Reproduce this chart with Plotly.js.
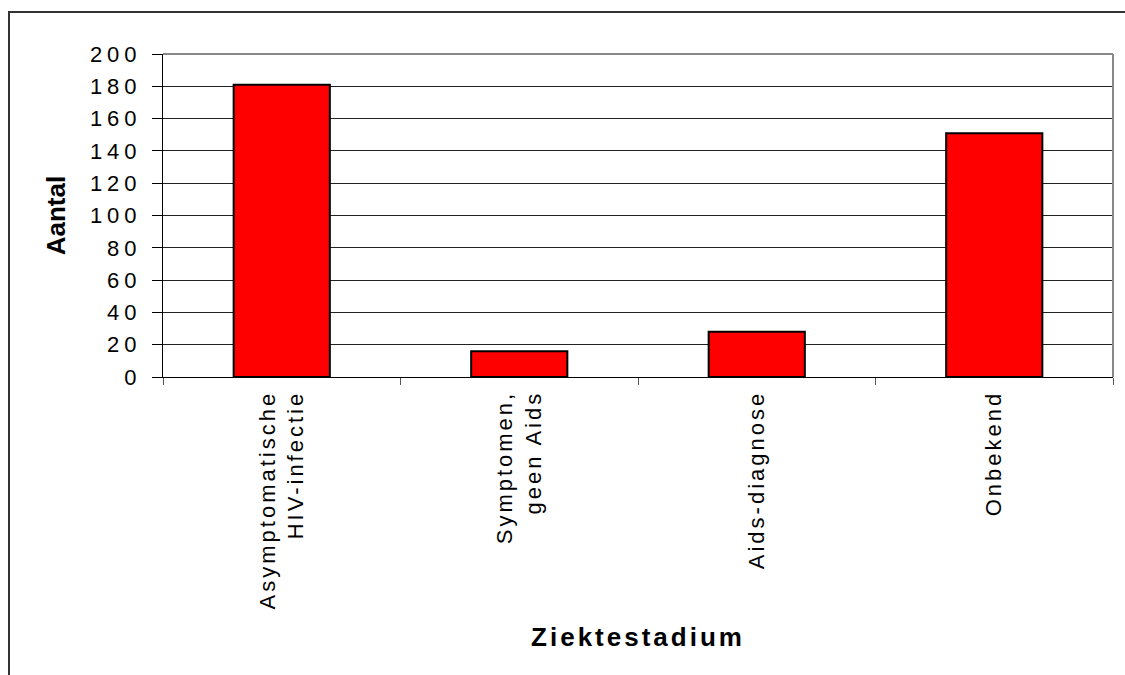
<!DOCTYPE html>
<html>
<head>
<meta charset="utf-8">
<script src="https://cdn.plot.ly/plotly-3.0.1.min.js"></script>
<style>
  html, body { margin: 0; padding: 0; background: #fff; }
  #wrap { position: relative; width: 1125px; height: 675px; overflow: hidden; }
  #chart { width: 1125px; height: 675px; }
  #frame { position: absolute; left: 8px; top: 11px; width: 3000px; height: 3000px;
           border-left: 2px solid #333; border-top: 2px solid #333; pointer-events: none; }
  #chart .ytick text { letter-spacing: 5px; }
  #chart .xtick text { letter-spacing: 3px; }
  #chart .g-xtitle text { letter-spacing: 3px; }
</style>
</head>
<body>
<div id="wrap">
  <div id="chart"></div>
  <div id="frame"></div>
</div>
<script>
const categories = ["Asymptomatische<br>HIV-infectie", "Symptomen,<br>geen Aids", "Aids-diagnose", "Onbekend"];
const values = [181, 16, 28, 151];
const yTickValues = [0, 20, 40, 60, 80, 100, 120, 140, 160, 180, 200];
const xTitle = "Ziektestadium";
const yTitle = "Aantal";

const font = "Liberation Sans, Arial, sans-serif";

const trace = {
  type: "bar",
  x: categories,
  y: values,
  marker: { color: "#FF0000", line: { color: "#000000", width: 2 } },
  width: 0.405,
  hoverinfo: "x+y"
};

const layout = {
  width: 1125,
  height: 675,
  margin: { l: 163, r: 12, t: 54, b: 298 },
  paper_bgcolor: "#ffffff",
  plot_bgcolor: "#ffffff",
  showlegend: false,
  font: { family: font, color: "#000" },
  xaxis: {
    type: "category",
    tickson: "boundaries",
    ticks: "outside",
    ticklen: 7,
    tickcolor: "#555",
    tickwidth: 1,
    tickangle: -90,
    ticklabelstandoff: 4,
    tickfont: { family: font, size: 22, color: "#000" },
    showline: true,
    linecolor: "#000",
    linewidth: 1,
    showgrid: false,
    zeroline: false,
    automargin: false,
    title: { text: "<b>" + xTitle + "</b>", font: { family: font, size: 26, color: "#000" }, standoff: 64 }
  },
  yaxis: {
    range: [0, 200],
    tickvals: yTickValues,
    ticktext: yTickValues.map(String),
    ticks: "outside",
    ticklen: 10,
    tickcolor: "#000",
    tickwidth: 1,
    ticklabelstandoff: 6,
    tickfont: { family: font, size: 22, color: "#000" },
    showline: true,
    linecolor: "#000",
    linewidth: 1,
    showgrid: true,
    gridcolor: "#222",
    gridwidth: 1,
    zeroline: false,
    automargin: false,
    title: { text: "<b>" + yTitle + "</b>", font: { family: font, size: 26, color: "#000" }, standoff: 31 }
  },
  shapes: [
    { type: "line", xref: "paper", yref: "paper", x0: 0, x1: 1, y0: 1, y1: 1, line: { color: "#888", width: 2 }, layer: "above" },
    { type: "line", xref: "paper", yref: "paper", x0: 1, x1: 1, y0: 0, y1: 1, line: { color: "#888", width: 2 }, layer: "above" }
  ]
};

Plotly.newPlot("chart", [trace], layout, { displayModeBar: false, staticPlot: true });
</script>
</body>
</html>
